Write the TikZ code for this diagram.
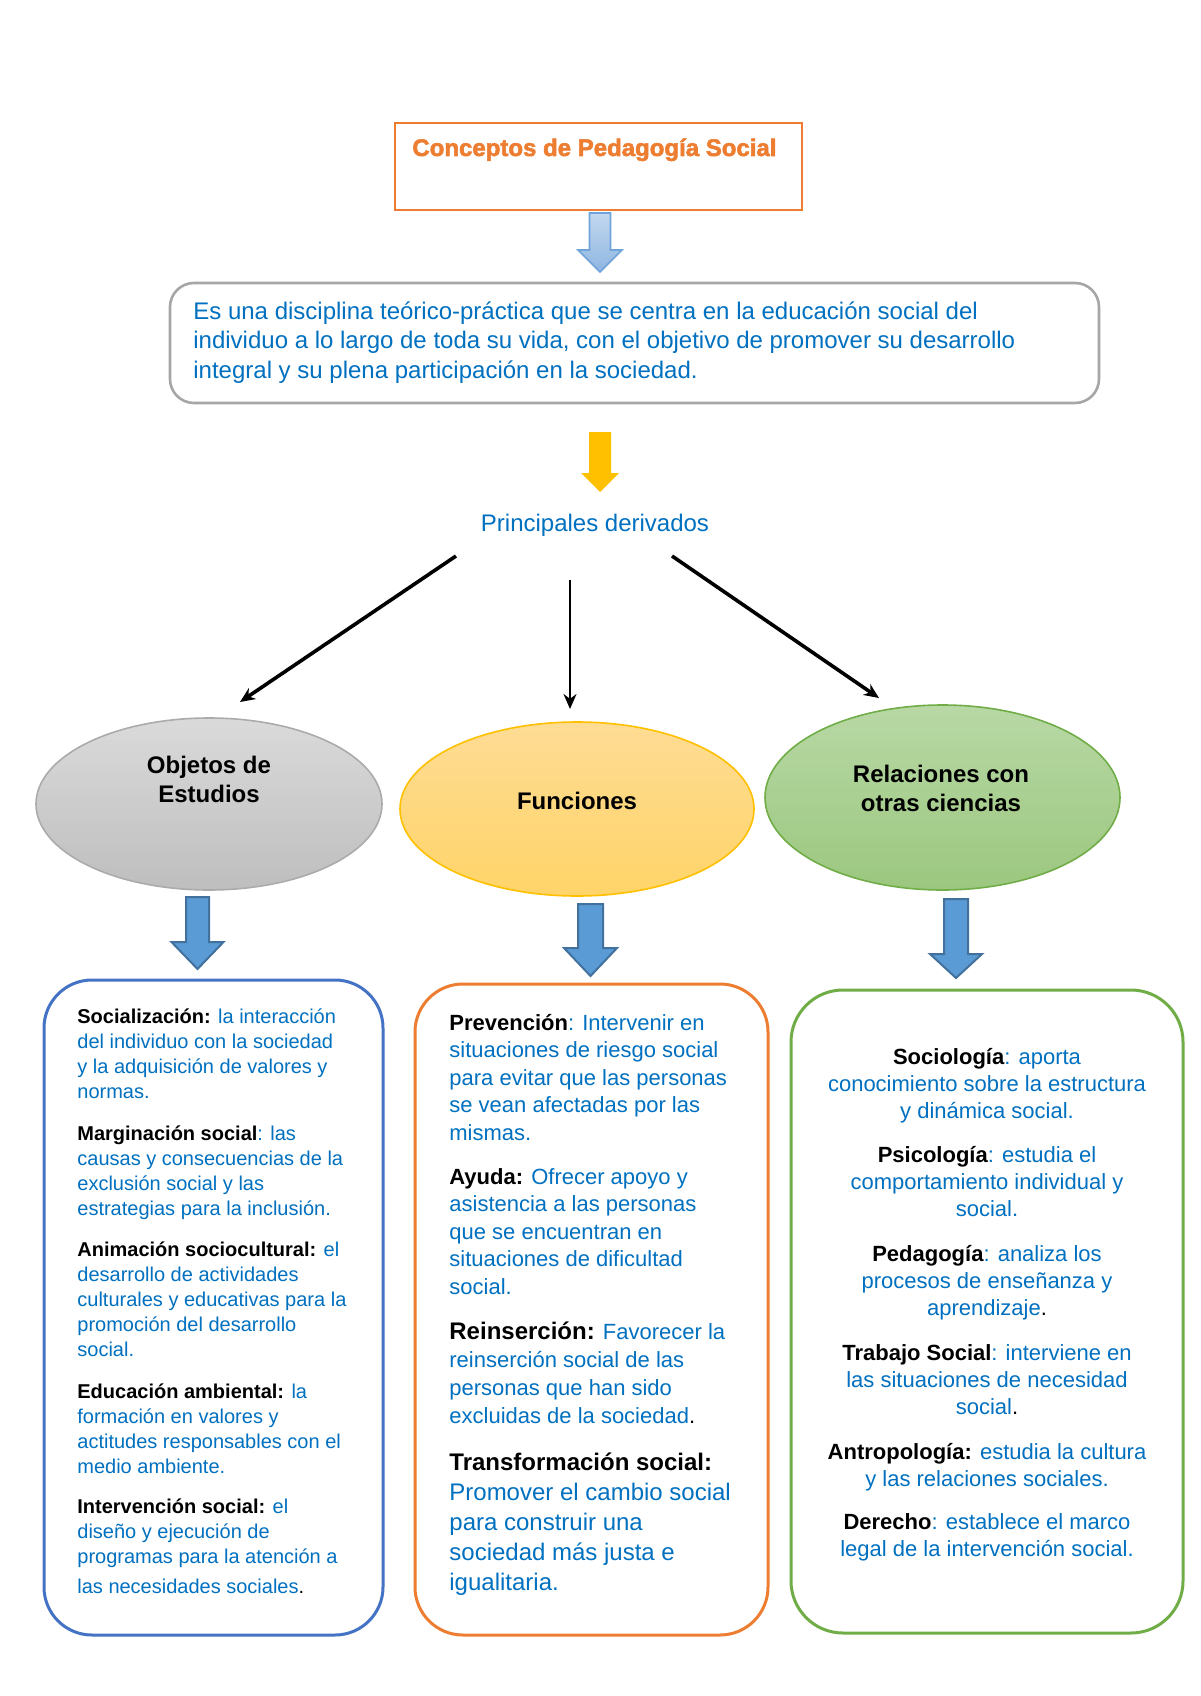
\documentclass[tikz,border=0pt]{standalone}
\usepackage{fontspec}
\setmainfont{Liberation Sans}
\newfontfamily\titlefont[FakeBold=2.2]{Liberation Sans Bold}
\usetikzlibrary{arrows.meta,shapes.geometric}
\definecolor{txtblue}{HTML}{0070C0}
\definecolor{orangeC}{HTML}{ED7D31}
\definecolor{boxgray}{HTML}{A6A6A6}
\definecolor{arrowblue}{HTML}{5B9BD5}
\definecolor{arrowedge}{HTML}{41719C}
\definecolor{ltblueA}{HTML}{C3D8EF}
\definecolor{ltblueB}{HTML}{8EB6E2}
\definecolor{ltblueE}{HTML}{6FA3DA}
\definecolor{yellowC}{HTML}{FFC000}
\definecolor{grayA}{HTML}{DADADA}
\definecolor{grayB}{HTML}{BEBEBE}
\definecolor{grayE}{HTML}{ABABAB}
\definecolor{yelA}{HTML}{FEDC94}
\definecolor{yelB}{HTML}{FFD469}
\definecolor{greenA}{HTML}{B8D8A5}
\definecolor{greenB}{HTML}{9BC77F}
\definecolor{greenE}{HTML}{70AD47}
\definecolor{blueE}{HTML}{4472C4}
\newcommand\hd[1]{{\color{black}\bfseries #1}}
\newcommand\blk[1]{{\color{black}#1}}
\newcommand\blockarr[7]{%
  \draw[#1] ({#2-#3},#5) -- ({#2+#3},#5) -- ({#2+#3},#6) -- ({#2+#4},#6) -- (#2,#7)
    -- ({#2-#4},#6) -- ({#2-#3},#6) -- cycle;}
\begin{document}
\begin{tikzpicture}[x=0.5pt,y=-0.5pt,
  para/.style={inner sep=0pt, align=left, anchor=base west, text=txtblue},
  cpara/.style={inner sep=0pt, align=center, anchor=base, text=txtblue},
  etext/.style={inner sep=0pt, align=center, anchor=base, font=\fontsize{12}{14.5}\selectfont\bfseries},
  bigarrow/.style={fill=arrowblue, draw=arrowedge, line width=1pt, line join=miter},
  toparrow/.style={top color=ltblueA, bottom color=ltblueB, draw=ltblueE, line width=0.8pt, line join=miter},
  yelarrow/.style={fill=yellowC, draw=none},
  connector/.style={draw=black, line width=1.8pt, -{Stealth[length=7.5pt,width=6.5pt]}},
  ebox/.style={ellipse, line width=0.8pt, inner sep=0pt},
  rbox/.style={rectangle, rounded corners=24pt, line width=1.5pt, inner sep=0pt}]
\path[use as bounding box, fill=white] (0,0) rectangle (1200,1696);

% title
\node[rectangle, draw=orangeC, line width=1.2pt, minimum width=203.5pt, minimum height=43.5pt, inner sep=0pt] (title) at (598.5,166.5) {};
\node[inner sep=0pt, anchor=base west, text=orangeC, font=\fontsize{12}{14}\titlefont] (titletext) at (412,156) {Conceptos de Pedagogía Social};

\blockarr{toparrow}{600}{10.5}{22}{213}{250}{272}

% definition
\node[rectangle, draw=boxgray, rounded corners=12pt, line width=1.3pt, minimum width=464.5pt, minimum height=60pt, inner sep=0pt] (def) at (634.5,343) {};
\node[para, font=\fontsize{12}{14.75}\selectfont] (deftext) at (193,378) {Es una disciplina teórico-práctica que se centra en la educación social del\\individuo a lo largo de toda su vida, con el objetivo de promover su desarrollo\\integral y su plena participación en la sociedad.};

\blockarr{yelarrow}{600}{11}{19}{432}{473}{492}

\node[cpara, font=\fontsize{12}{14}\selectfont] (der) at (595,531) {Principales derivados};

% black connectors
\coordinate (c1s) at (456,556); \coordinate (c1e) at (240,702);
\coordinate (c2s) at (570,580); \coordinate (c2e) at (570,709);
\coordinate (c3s) at (672,556); \coordinate (c3e) at (879,698);
\draw[connector] (c1s) -- (c1e);
\draw[connector, line width=1.2pt] (c2s) -- (c2e);
\draw[connector] (c3s) -- (c3e);

% ellipses
\node[ebox, top color=grayA, bottom color=grayB, draw=grayE, minimum width=173pt, minimum height=86pt] (e1) at (209,804) {};
\node[ebox, top color=yelA, bottom color=yelB, draw=yellowC, minimum width=177pt, minimum height=87pt] (e2) at (577,809) {};
\node[ebox, top color=greenA, bottom color=greenB, draw=greenE, minimum width=177.5pt, minimum height=92.5pt] (e3) at (942.5,797.5) {};
\node[etext] (e1t) at (209,802) {Objetos de\\Estudios};
\node[etext] (e2t) at (577,809) {Funciones};
\node[etext] (e3t) at (941,811) {Relaciones con\\otras ciencias};

\blockarr{bigarrow}{197.5}{11.5}{26}{897}{942}{969}
\blockarr{bigarrow}{590.5}{12.5}{26.5}{904}{948}{976}
\blockarr{bigarrow}{956}{12}{26}{899}{954}{978}

% bottom boxes
\node[rbox, draw=blueE, minimum width=169.5pt, minimum height=327.5pt] (b1) at (213.5,1307.5) {};
\node[rbox, draw=orangeC, minimum width=176.5pt, minimum height=325.5pt] (b2) at (591.5,1309.5) {};
\node[rbox, draw=greenE, rounded corners=26pt, minimum width=196pt, minimum height=321.5pt] (b3) at (987,1311.5) {};

% left box text
\begin{scope}[every node/.style={para, font=\fontsize{10}{12.5}\selectfont}]
\node (l1) at (77,1098) {\hd{Socialización:} la interacción\\del individuo con la sociedad\\y la adquisición de valores y\\normas.};
\node (l2) at (77,1215) {\hd{Marginación social}: las\\causas y consecuencias de la\\exclusión social y las\\estrategias para la inclusión.};
\node (l3) at (77,1356) {\hd{Animación sociocultural:} el\\desarrollo de actividades\\culturales y educativas para la\\promoción del desarrollo\\social.};
\node (l4) at (77,1473) {\hd{Educación ambiental:} la\\formación en valores y\\actitudes responsables con el\\medio ambiente.};
\node (l5) at (77,1593) {\hd{Intervención social:} el\\diseño y ejecución de\\programas para la atención a\\[2.5pt]las necesidades sociales\blk{.}};
\end{scope}

% middle box text
\node[para, font=\fontsize{11}{13.75}\selectfont] (m1) at (449,1140) {\hd{Prevención}: Intervenir en\\situaciones de riesgo social\\para evitar que las personas\\se vean afectadas por las\\mismas.};
\node[para, font=\fontsize{11}{13.75}\selectfont] (m2) at (449,1294) {\hd{Ayuda:} Ofrecer apoyo y\\asistencia a las personas\\que se encuentran en\\situaciones de dificultad\\social.};
\node[para, font=\fontsize{11}{14}\selectfont] (m3) at (449,1423) {{\fontsize{12}{14}\selectfont\hd{Reinserción:}} Favorecer la\\reinserción social de las\\personas que han sido\\excluidas de la sociedad\blk{.}};
\node[para, font=\fontsize{12}{15}\selectfont] (m4) at (449,1590) {\hd{Transformación social:}\\Promover el cambio social\\para construir una\\sociedad más justa e\\igualitaria.};

% right box text
\begin{scope}[every node/.style={cpara, font=\fontsize{11}{13.5}\selectfont}]
\node (r1) at (987,1118) {\hd{Sociología}: aporta\\conocimiento sobre la estructura\\y dinámica social.};
\node (r2) at (987,1216) {\hd{Psicología}: estudia el\\comportamiento individual y\\social.};
\node (r3) at (987,1315) {\hd{Pedagogía}: analiza los\\procesos de enseñanza y\\aprendizaje\blk{.}};
\node (r4) at (987,1414) {\hd{Trabajo Social}: interviene en\\las situaciones de necesidad\\social\blk{.}};
\node (r5) at (987,1486) {\hd{Antropología:} estudia la cultura\\y las relaciones sociales.};
\node (r6) at (987,1556) {\hd{Derecho}: establece el marco\\legal de la intervención social.};
\end{scope}
\end{tikzpicture}
\end{document}
